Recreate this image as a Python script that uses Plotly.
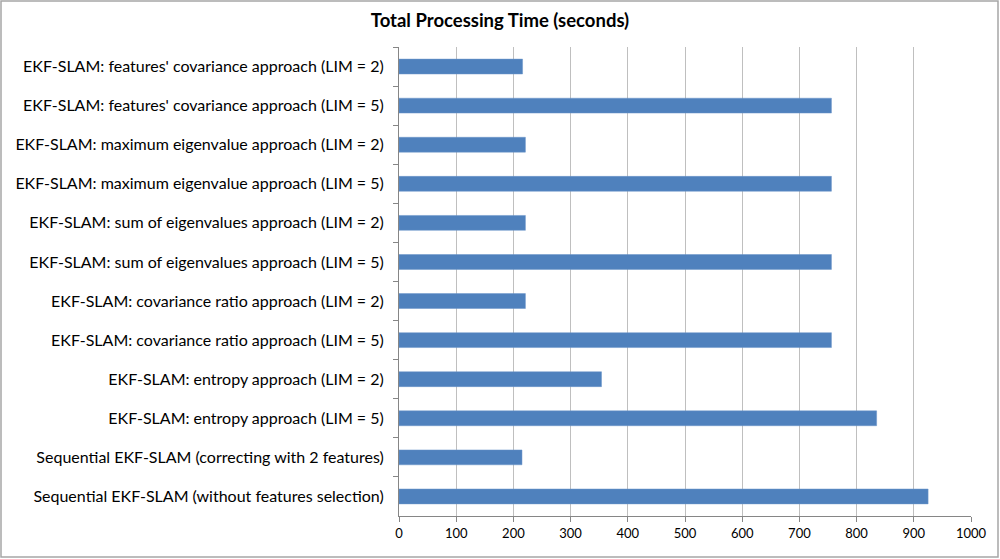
import plotly.graph_objects as go

# --- dados (de cima para baixo) ---
metodos = [
    "EKF-SLAM: features' covariance approach (LIM = 2)",
    "EKF-SLAM: features' covariance approach (LIM = 5)",
    "EKF-SLAM: maximum eigenvalue approach (LIM = 2)",
    "EKF-SLAM: maximum eigenvalue approach (LIM = 5)",
    "EKF-SLAM: sum of eigenvalues approach (LIM = 2)",
    "EKF-SLAM: sum of eigenvalues approach (LIM = 5)",
    "EKF-SLAM: covariance ratio approach (LIM = 2)",
    "EKF-SLAM: covariance ratio approach (LIM = 5)",
    "EKF-SLAM: entropy approach (LIM = 2)",
    "EKF-SLAM: entropy approach (LIM = 5)",
    "Sequential EKF-SLAM (correcting with 2 features)",
    "Sequential EKF-SLAM (without features selection)",
]
tempo_total = [216, 756, 221, 756, 221, 756, 221, 756, 354, 835, 215, 925]
ticks_x = list(range(0, 1001, 100))

fig = go.Figure()
fig.add_trace(go.Bar(
    x=tempo_total,
    y=metodos,
    orientation="h",
    marker=dict(color="#4F81BD", line=dict(color="#6A95C8", width=0.5)),
    hoverinfo="x+y",
))

fig.update_layout(
    width=1000,
    height=559,
    paper_bgcolor="white",
    plot_bgcolor="white",
    font=dict(family="Lato, Open Sans, sans-serif", size=16, color="#000000"),
    title=dict(
        text="<b>Total Processing Time (seconds)</b>",
        x=0.5, xanchor="center", y=0.963, yanchor="middle",
        font=dict(size=18.5, color="#000000"),
    ),
    margin=dict(l=399, r=29, t=47, b=43),
    bargap=0.62,
    showlegend=False,
    xaxis=dict(
        range=[0, 1000],
        tickvals=ticks_x,
        ticks="outside",
        ticklen=5,
        tickcolor="#868686",
        showgrid=True,
        gridcolor="#BFBFBF",
        gridwidth=1,
        showline=True,
        linecolor="#868686",
        zeroline=False,
        tickfont=dict(size=13, color="#000000"),
        fixedrange=True,
    ),
    yaxis=dict(
        categoryorder="array",
        categoryarray=metodos,
        autorange="reversed",
        tickson="boundaries",
        ticks="outside",
        ticklen=5,
        tickcolor="#868686",
        showgrid=False,
        showline=True,
        linecolor="#868686",
        ticklabelstandoff=11,
        tickfont=dict(size=16, color="#000000"),
        fixedrange=True,
    ),
)

# borda cinza em volta do gráfico
fig.add_shape(
    type="rect", xref="paper", yref="paper",
    x0=-398 / 572, x1=1 + 27 / 572, y0=-41 / 469, y1=1 + 46 / 469,
    line=dict(color="#A6A6A6", width=1.5),
)

# remove a margem padrão do body para a figura ocupar a janela inteira
fig.write_html(
    "out.html",
    config={"displayModeBar": False},
    post_script="document.body.style.margin='0';document.documentElement.style.overflow='hidden';",
)
